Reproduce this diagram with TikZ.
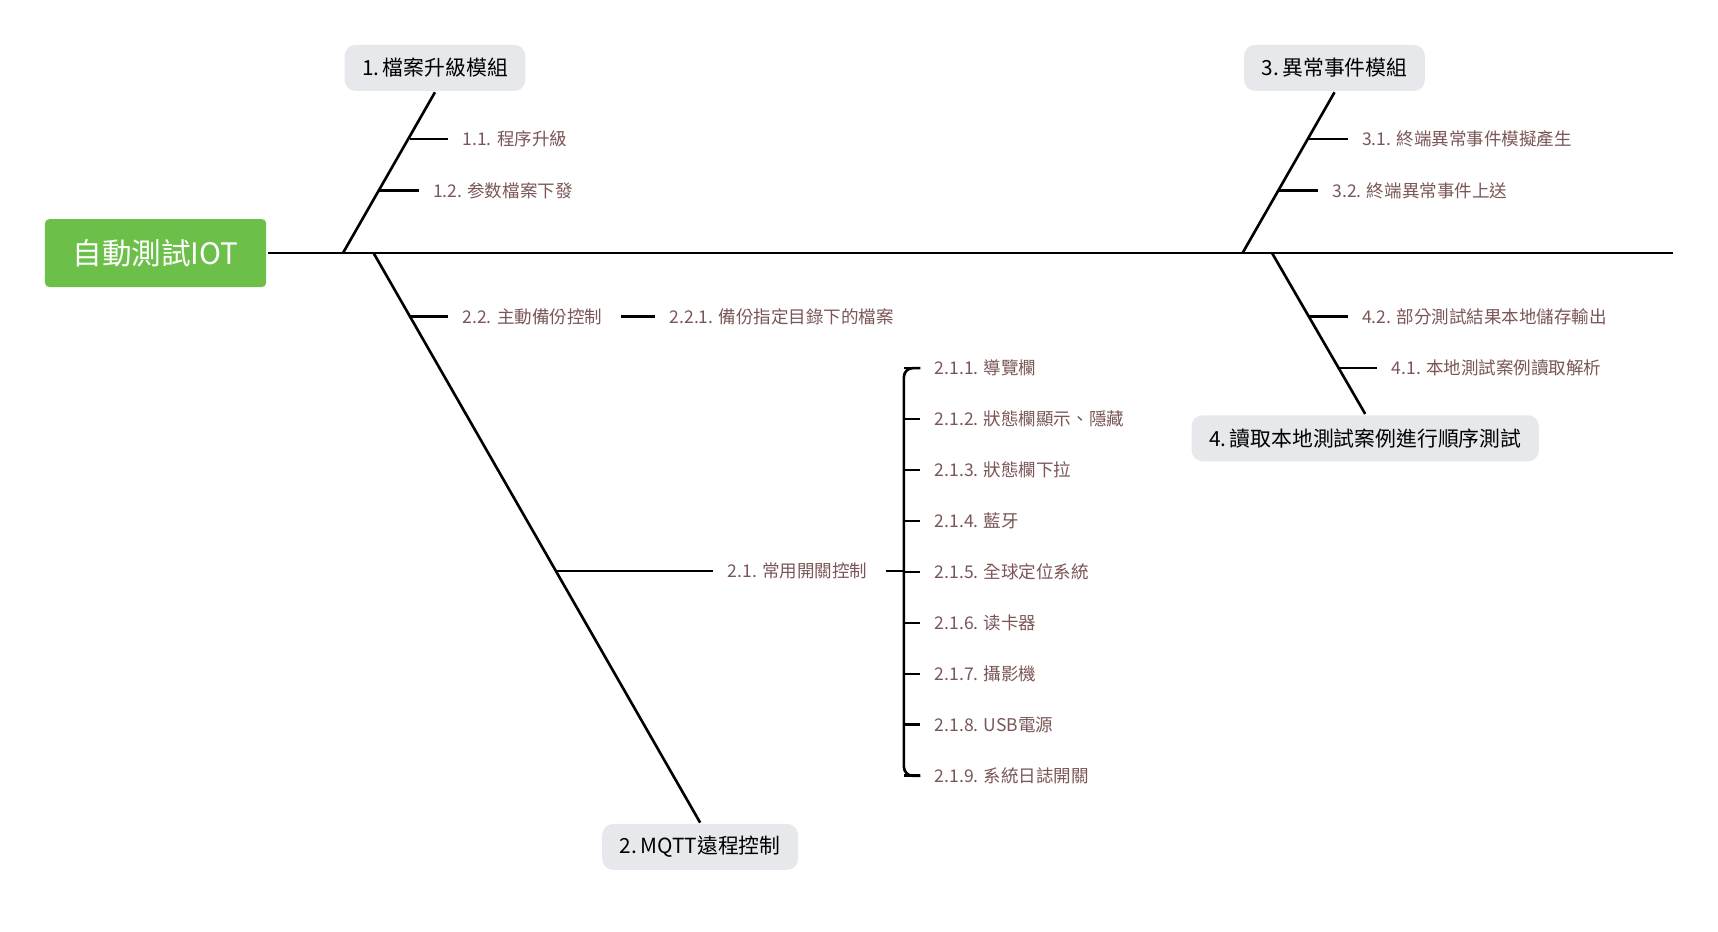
\documentclass[tikz,border=0pt]{standalone}
\usepackage{fontspec}
\setmainfont{Noto Sans CJK TC}
\usetikzlibrary{positioning, calc}
\definecolor{rootgreen}{HTML}{6CC04A}
\definecolor{boxgrey}{HTML}{E6E8EB}
\definecolor{leafbrown}{HTML}{7A5656}

\begin{document}
\begin{tikzpicture}[x=0.5pt, y=-0.5pt, line width=1.2pt,
    topic/.style={fill=boxgrey, rounded corners=5pt, inner xsep=8pt, minimum height=21pt, font=\fontsize{9.5}{11}\selectfont},
    leaf/.style={anchor=west, text=leafbrown, inner sep=0pt, font=\fontsize{8}{10}\selectfont}]
    \useasboundingbox (0,0) rectangle (1568,850);
    % 主幹
    \node[fill=rootgreen, text=white, rounded corners=2pt, minimum width=101pt, minimum height=31pt,
          font=\fontsize{13.5}{15}\selectfont] (root) at (142,231) {自動測試IOT};
    \coordinate (end) at (1527,231);
    \draw (root.east) -- (end);

    % 四個模組
    \node[topic] (M1) at (397,62)   {1.\,檔案升級模組};
    \node[topic] (M3) at (1218,62)  {3.\,異常事件模組};
    \node[topic] (M2) at (639,773)  {2.\,MQTT遠程控制};
    \node[topic] (M4) at (1246,400) {4.\,讀取本地測試案例進行順序測試};

    \coordinate (b1) at (313,231);
    \coordinate (b2) at (341,231);
    \coordinate (b3) at (1134,231);
    \coordinate (b4) at (1161,231);
    \draw (b1) -- (M1.south);
    \draw (b2) -- (M2.north);
    \draw (b3) -- (M3.south);
    \draw (b4) -- (M4.north);

    % 子項目
    \node[leaf] (L11) at (421,127)  {1.1. 程序升級};
    \node[leaf] (L12) at (394,174)  {1.2. 参数檔案下發};
    \node[leaf] (L31) at (1242,127) {3.1. 終端異常事件模擬產生};
    \node[leaf] (L32) at (1215,174) {3.2. 終端異常事件上送};
    \node[leaf] (L42) at (1242,289) {4.2. 部分測試結果本地儲存輸出};
    \node[leaf] (L41) at (1269,336) {4.1. 本地測試案例讀取解析};
    \node[leaf] (L22) at (421,289)  {2.2. 主動備份控制};
    \node[leaf] (L221) at (610,289) {2.2.1. 備份指定目錄下的檔案};
    \node[leaf] (L21) at (663,521)  {2.1. 常用開關控制};

    \draw (374,127) -- ([xshift=-6pt]L11.west);
    \draw (345,174) -- ([xshift=-6pt]L12.west);
    \draw (1195,127) -- ([xshift=-6pt]L31.west);
    \draw (1167,174) -- ([xshift=-6pt]L32.west);
    \draw (1195,289) -- ([xshift=-6pt]L42.west);
    \draw (1222,336) -- ([xshift=-6pt]L41.west);
    \draw (374,289) -- ([xshift=-6pt]L22.west);
    \draw ([xshift=8pt]L22.east) -- ([xshift=-6pt]L221.west);
    \draw (508,521) -- ([xshift=-6pt]L21.west);

    % 2.1 的括號
    \coordinate (brace) at (825,521);
    \draw ([xshift=8pt]L21.east) -- (brace);
    \foreach \name [count=\i] in {導覽欄, 狀態欄顯示、隱藏, 狀態欄下拉, 藍牙, 全球定位系統,
                                  读卡器, 攝影機, USB電源, 系統日誌開關} {
        \node[leaf] (S\i) at (852,{336+(\i-1)*46.5}) {2.1.\i. \name};
        \draw ([xshift=-6pt]S\i.west) -- ++(-7.5pt,0);
    }
    \draw[rounded corners=4pt] ([xshift=-6pt]S1.west) -| (brace) |- ([xshift=-6pt]S9.west);
\end{tikzpicture}
\end{document}
